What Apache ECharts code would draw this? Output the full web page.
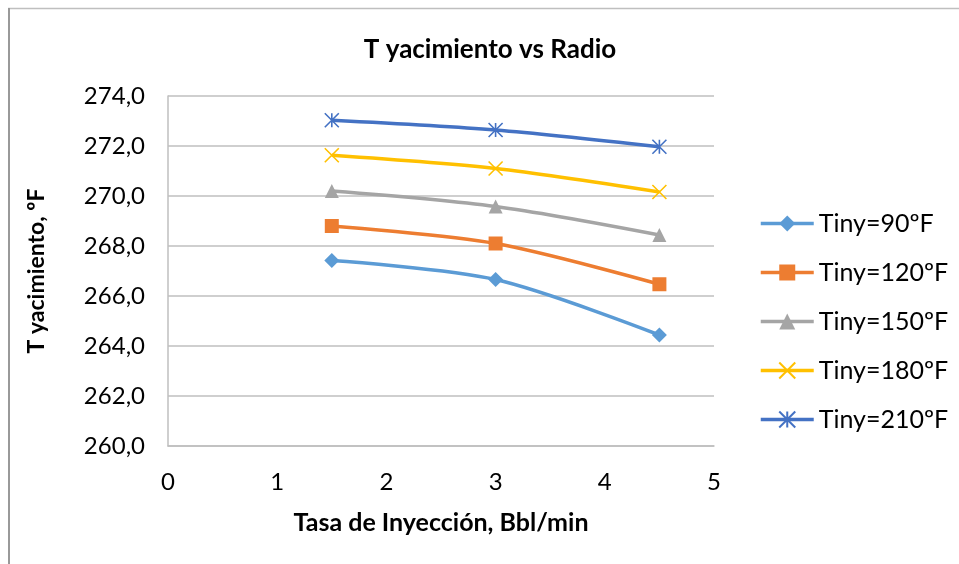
<!DOCTYPE html>
<html>
<head>
<meta charset="utf-8">
<script src="https://cdn.jsdelivr.net/npm/echarts@6/dist/echarts.min.js"></script>
<style>html,body{margin:0;padding:0;background:#fff}#c{width:959px;height:564px}</style>
</head>
<body>
<div id="c"></div>
<script>
const xValues = [1.5, 3, 4.5];
const seriesNames = ['Tiny=90ºF', 'Tiny=120ºF', 'Tiny=150ºF', 'Tiny=180ºF', 'Tiny=210ºF'];
const t90 = [267.42, 266.66, 264.44];
const t120 = [268.8, 268.1, 266.47];
const t150 = [270.2, 269.58, 268.44];
const t180 = [271.63, 271.1, 270.16];
const t210 = [273.03, 272.64, 271.97];
const xTicks = [0, 1, 2, 3, 4, 5];
const yTicks = [260, 262, 264, 266, 268, 270, 272, 274];

const colors = ['#5B9BD5', '#ED7D31', '#A5A5A5', '#FFC000', '#4472C4'];
const allData = [t90, t120, t150, t180, t210];
const FONT = 'Lato';
const symbols = [
  'diamond',
  'rect',
  'triangle',
  'path://M0,0L10,10M10,0L0,10',
  'path://M0,0L10,10M10,0L0,10M5,0L5,10'
];
const sizes = [15, 14, 14, 14, 14];

const series = allData.map((arr, i) => {
  const stroke = i >= 3;
  return {
    name: seriesNames[i],
    type: 'line',
    smooth: 0.3,
    data: arr.map((v, k) => [xValues[k], v]),
    symbol: symbols[i],
    symbolSize: sizes[i],
    showSymbol: true,
    lineStyle: { color: colors[i], width: 3.5 },
    itemStyle: stroke
      ? { color: 'rgba(0,0,0,0)', borderColor: colors[i], borderWidth: 1.6 }
      : { color: colors[i], borderColor: colors[i], borderWidth: 0 },
    emphasis: { disabled: true }
  };
});

const chart = echarts.init(document.getElementById('c'), null, { renderer: 'canvas' });
chart.setOption({
  animation: false,
  backgroundColor: '#fff',
  title: {
    text: 'T yacimiento vs Radio',
    left: 485, textAlign: 'center', top: 32,
    textStyle: { fontFamily: FONT, fontSize: 26, fontWeight: 'bold', color: '#000' }
  },
  legend: {
    orient: 'vertical',
    left: 754, top: 206,
    itemWidth: 53, itemHeight: 20, itemGap: 24,
    data: seriesNames,
    lineStyle: { width: 3.5 },
    textStyle: { fontFamily: FONT, fontSize: 25, color: '#000', lineHeight: 22 }
  },
  grid: { left: 168, right: 245, top: 96, bottom: 118 },
  xAxis: {
    type: 'value', min: 0, max: 5, interval: 1,
    name: 'Tasa de Inyección, Bbl/min', nameLocation: 'middle', nameGap: 64,
    nameTextStyle: { fontFamily: FONT, fontSize: 25, fontWeight: 'bold', color: '#000' },
    axisLine: { show: true, onZero: false, lineStyle: { color: '#BFBFBF', width: 1.5 } },
    axisTick: { show: false },
    splitLine: { show: false },
    axisLabel: {
      margin: 24, fontFamily: FONT, fontSize: 24, color: '#000',
      formatter: v => xTicks.includes(v) ? String(v) : ''
    }
  },
  yAxis: {
    type: 'value', min: 260, max: 274, interval: 2,
    name: 'T yacimiento, ºF', nameLocation: 'middle', nameGap: 120,
    nameTextStyle: { fontFamily: FONT, fontSize: 23, fontWeight: 'bold', color: '#000' },
    axisLine: { show: true, lineStyle: { color: '#BFBFBF', width: 1.5 } },
    axisTick: { show: false },
    splitLine: { show: true, lineStyle: { color: '#BFBFBF', width: 1.5 } },
    axisLabel: {
      margin: 23, fontFamily: FONT, fontSize: 24, color: '#000',
      formatter: v => yTicks.includes(v) ? v.toFixed(1).replace('.', ',') : ''
    }
  },
  graphic: [
    { type: 'line', shape: { x1: 8, y1: 8.5, x2: 959, y2: 8.5 }, style: { stroke: '#BFBFBF', lineWidth: 1.5 } },
    { type: 'line', shape: { x1: 9, y1: 8, x2: 9, y2: 564 }, style: { stroke: '#999999', lineWidth: 2 } }
  ],
  series: series
});
</script>
</body>
</html>
